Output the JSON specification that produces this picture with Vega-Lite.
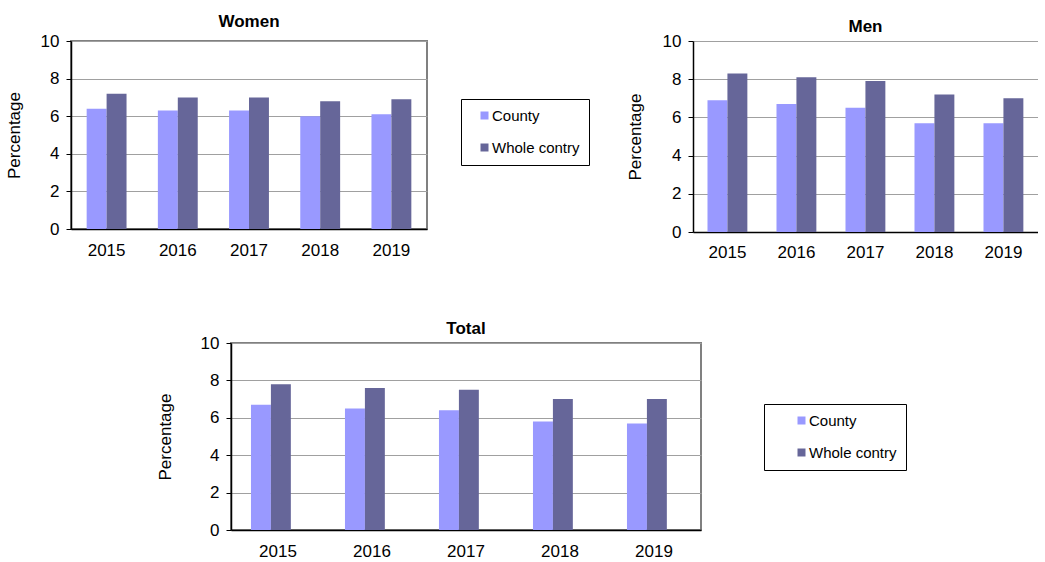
{
  "$schema": "https://vega.github.io/schema/vega-lite/v6.json",
  "background": "white",
  "padding": {"left": 4, "top": 11, "right": 0, "bottom": 0},
  "autosize": {"type": "pad"},
  "data": {
    "values": [
      {"panel": "Women", "year": "2015", "series": "County", "value": 6.4},
      {"panel": "Women", "year": "2016", "series": "County", "value": 6.3},
      {"panel": "Women", "year": "2017", "series": "County", "value": 6.3},
      {"panel": "Women", "year": "2018", "series": "County", "value": 6.0},
      {"panel": "Women", "year": "2019", "series": "County", "value": 6.1},
      {"panel": "Women", "year": "2015", "series": "Whole contry", "value": 7.2},
      {"panel": "Women", "year": "2016", "series": "Whole contry", "value": 7.0},
      {"panel": "Women", "year": "2017", "series": "Whole contry", "value": 7.0},
      {"panel": "Women", "year": "2018", "series": "Whole contry", "value": 6.8},
      {"panel": "Women", "year": "2019", "series": "Whole contry", "value": 6.9},
      {"panel": "Men", "year": "2015", "series": "County", "value": 6.9},
      {"panel": "Men", "year": "2016", "series": "County", "value": 6.7},
      {"panel": "Men", "year": "2017", "series": "County", "value": 6.5},
      {"panel": "Men", "year": "2018", "series": "County", "value": 5.7},
      {"panel": "Men", "year": "2019", "series": "County", "value": 5.7},
      {"panel": "Men", "year": "2015", "series": "Whole contry", "value": 8.3},
      {"panel": "Men", "year": "2016", "series": "Whole contry", "value": 8.1},
      {"panel": "Men", "year": "2017", "series": "Whole contry", "value": 7.9},
      {"panel": "Men", "year": "2018", "series": "Whole contry", "value": 7.2},
      {"panel": "Men", "year": "2019", "series": "Whole contry", "value": 7.0},
      {"panel": "Total", "year": "2015", "series": "County", "value": 6.7},
      {"panel": "Total", "year": "2016", "series": "County", "value": 6.5},
      {"panel": "Total", "year": "2017", "series": "County", "value": 6.4},
      {"panel": "Total", "year": "2018", "series": "County", "value": 5.8},
      {"panel": "Total", "year": "2019", "series": "County", "value": 5.7},
      {"panel": "Total", "year": "2015", "series": "Whole contry", "value": 7.8},
      {"panel": "Total", "year": "2016", "series": "Whole contry", "value": 7.6},
      {"panel": "Total", "year": "2017", "series": "Whole contry", "value": 7.5},
      {"panel": "Total", "year": "2018", "series": "Whole contry", "value": 7.0},
      {"panel": "Total", "year": "2019", "series": "Whole contry", "value": 7.0}
    ]
  },
  "config": {
    "font": "Liberation Sans",
    "view": {"stroke": "#808080", "strokeWidth": 2},
    "axis": {
      "labelFont": "Liberation Sans", "labelFontSize": 17, "labelColor": "#000",
      "titleFont": "Liberation Sans", "titleFontSize": 17, "titleFontWeight": "normal", "titleColor": "#000",
      "domainColor": "#000", "domainWidth": 1.5, "tickColor": "#000", "gridColor": "#A0A0A0", "gridWidth": 1
    },
    "title": {"font": "Liberation Sans", "fontSize": 17, "fontWeight": "bold", "color": "#000", "frame": "group", "anchor": "middle"},
    "legend": {
      "symbolType": "square", "symbolSize": 64, "symbolStrokeWidth": 0,
      "labelFont": "Liberation Sans", "labelFontSize": 15, "labelColor": "#000",
      "strokeColor": "#000", "padding": 9, "rowPadding": 16, "labelOffset": 0
    }
  },
  "resolve": {"legend": {"color": "independent"}},
  "spacing": 58,
  "vconcat": [
    {
      "resolve": {"legend": {"color": "independent"}},
      "spacing": 35,
      "hconcat": [
        {
          "title": {"text": "Women", "offset": 1.5},
          "width": 356, "height": 188,
          "transform": [{"filter": "datum.panel === 'Women'"}],
          "mark": {"type": "bar"},
          "encoding": {
            "x": {"field": "year", "type": "nominal", "scale": {"paddingInner": 0.44, "paddingOuter": 0.22},
                  "axis": {"title": null, "labelAngle": 0, "ticks": false, "labelPadding": 13}},
            "xOffset": {"field": "series", "type": "nominal", "sort": ["County", "Whole contry"], "scale": {"paddingInner": 0, "paddingOuter": 0}},
            "y": {"field": "value", "type": "quantitative", "scale": {"domain": [0, 10], "nice": false},
                  "axis": {"title": "Percentage", "values": [0, 2, 4, 6, 8, 10], "tickSize": 5, "labelPadding": 7, "titlePadding": 17}},
            "color": {"field": "series", "type": "nominal", "scale": {"domain": ["County", "Whole contry"], "range": ["#9999FF", "#666699"]},
                      "legend": {"title": null, "orient": "none", "legendX": 390, "legendY": 58, "symbolOffset": 7}}
          }
        },
        {
          "title": {"text": "Men", "offset": -4},
          "width": 345, "height": 191,
          "view": {"stroke": null},
          "transform": [{"filter": "datum.panel === 'Men'"}],
          "mark": {"type": "bar"},
          "encoding": {
            "x": {"field": "year", "type": "nominal", "scale": {"paddingInner": 0.42, "paddingOuter": 0.21},
                  "axis": {"title": null, "labelAngle": 0, "ticks": false, "labelPadding": 12}},
            "xOffset": {"field": "series", "type": "nominal", "sort": ["County", "Whole contry"], "scale": {"paddingInner": 0, "paddingOuter": 0}},
            "y": {"field": "value", "type": "quantitative", "scale": {"domain": [0, 10], "nice": false},
                  "axis": {"title": "Percentage", "values": [0, 2, 4, 6, 8, 10], "tickSize": 5, "labelPadding": 7, "titlePadding": 18}},
            "color": {"field": "series", "type": "nominal", "scale": {"domain": ["County", "Whole contry"], "range": ["#9999FF", "#666699"]},
                      "legend": null}
          }
        }
      ]
    },
    {
      "resolve": {"legend": {"color": "independent"}},
      "spacing": 0,
      "hconcat": [
        {"width": 84, "height": 1, "view": {"stroke": null}, "data": {"values": []}, "mark": "point"},
        {
          "title": {"text": "Total", "offset": -3.5},
          "width": 470, "height": 187,
          "transform": [{"filter": "datum.panel === 'Total'"}],
          "mark": {"type": "bar"},
          "encoding": {
            "x": {"field": "year", "type": "nominal", "scale": {"paddingInner": 0.425, "paddingOuter": 0.2125},
                  "axis": {"title": null, "labelAngle": 0, "ticks": false, "labelPadding": 13}},
            "xOffset": {"field": "series", "type": "nominal", "sort": ["County", "Whole contry"], "scale": {"paddingInner": 0, "paddingOuter": 0}},
            "y": {"field": "value", "type": "quantitative", "scale": {"domain": [0, 10], "nice": false},
                  "axis": {"title": "Percentage", "values": [0, 2, 4, 6, 8, 10], "tickSize": 5, "labelPadding": 7, "titlePadding": 26}},
            "color": {"field": "series", "type": "nominal", "scale": {"domain": ["County", "Whole contry"], "range": ["#9999FF", "#666699"]},
                      "legend": {"title": null, "orient": "none", "legendX": 533, "legendY": 61, "symbolOffset": 21}}
          }
        }
      ]
    }
  ]
}
